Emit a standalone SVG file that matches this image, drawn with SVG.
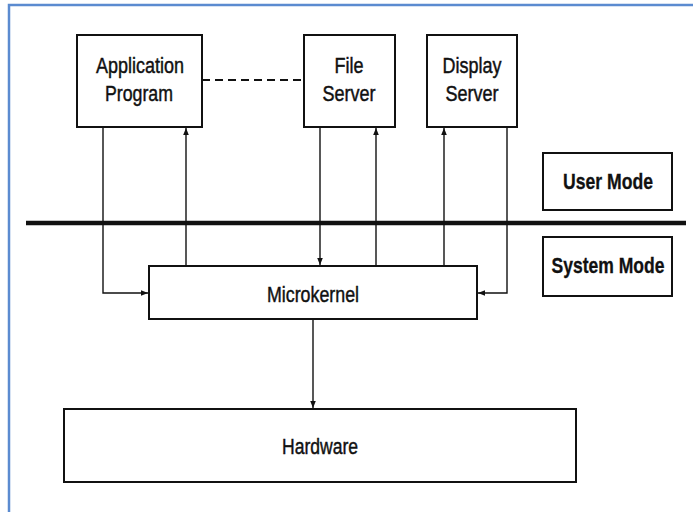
<svg xmlns="http://www.w3.org/2000/svg" width="693" height="512" viewBox="0 0 693 512">
<defs>
<marker id="arr" viewBox="0 0 10 10" refX="10" refY="5" markerWidth="7" markerHeight="7" markerUnits="userSpaceOnUse" orient="auto">
<path d="M0,1 L10,5 L0,9 z" fill="#111"/>
</marker>
</defs>
<style>
.box{fill:#fff;stroke:#111;stroke-width:2}
.t{font-family:"Liberation Sans",Arial,sans-serif;font-size:22px;fill:#111;stroke:#111;stroke-width:0.45;text-anchor:middle}
.b{font-weight:bold;stroke-width:0.3}
.c{fill:none;stroke:#111;stroke-width:1.4}
</style>
<rect x="0" y="0" width="693" height="512" fill="#fff"/>
<path d="M9,512 V5 H693" fill="none" stroke="#5b8bd0" stroke-width="2.5"/>
<g id="connectors">
<line x1="202" y1="80" x2="304" y2="80" stroke="#111" stroke-width="2" stroke-dasharray="8,5"/>
<line x1="26" y1="223" x2="686" y2="223" stroke="#111" stroke-width="4.5"/>
<path class="c" d="M103,127 V293 H148" marker-end="url(#arr)"/>
<path class="c" d="M186,266 V128" marker-end="url(#arr)"/>
<path class="c" d="M320,127 V265" marker-end="url(#arr)"/>
<path class="c" d="M376,266 V128" marker-end="url(#arr)"/>
<path class="c" d="M444,266 V128" marker-end="url(#arr)"/>
<path class="c" d="M507,127 V293 H478" marker-end="url(#arr)"/>
<path class="c" d="M313,319 V408" marker-end="url(#arr)"/>
</g>
<g id="app">
<rect class="box" x="77" y="35" width="125" height="92"/>
<text class="t" x="140" y="73" textLength="88" lengthAdjust="spacingAndGlyphs">Application</text>
<text class="t" x="139" y="101" textLength="68" lengthAdjust="spacingAndGlyphs">Program</text>
</g>
<g id="file">
<rect class="box" x="304" y="35" width="91" height="92"/>
<text class="t" x="349" y="73" textLength="29" lengthAdjust="spacingAndGlyphs">File</text>
<text class="t" x="349" y="101" textLength="53" lengthAdjust="spacingAndGlyphs">Server</text>
</g>
<g id="display">
<rect class="box" x="427" y="35" width="90" height="92"/>
<text class="t" x="472" y="73" textLength="59" lengthAdjust="spacingAndGlyphs">Display</text>
<text class="t" x="472" y="101" textLength="53" lengthAdjust="spacingAndGlyphs">Server</text>
</g>
<g id="usermode">
<rect class="box" x="543" y="153" width="129" height="57"/>
<text class="t b" x="608" y="189" textLength="90" lengthAdjust="spacingAndGlyphs">User Mode</text>
</g>
<g id="systemmode">
<rect class="box" x="543" y="237" width="129" height="59"/>
<text class="t b" x="608" y="273" textLength="113" lengthAdjust="spacingAndGlyphs">System Mode</text>
</g>
<g id="microkernel">
<rect class="box" x="149" y="266" width="328" height="53"/>
<text class="t" x="313" y="302" textLength="92" lengthAdjust="spacingAndGlyphs">Microkernel</text>
</g>
<g id="hardware">
<rect class="box" x="64" y="409" width="512" height="73"/>
<text class="t" x="320" y="454" textLength="76" lengthAdjust="spacingAndGlyphs">Hardware</text>
</g>
</svg>
